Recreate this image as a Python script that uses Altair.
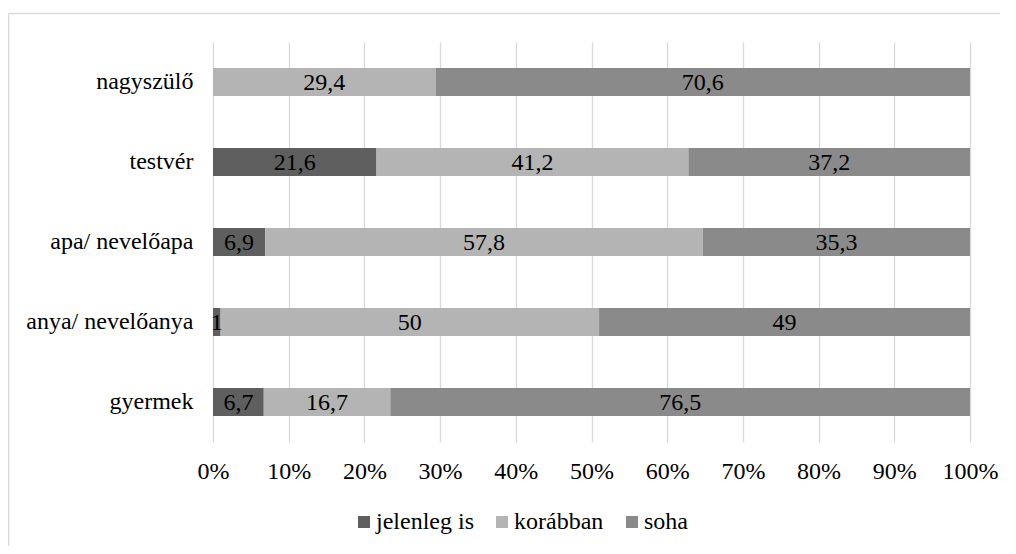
import altair as alt
import pandas as pd

categories = ["nagyszülő", "testvér", "apa/ nevelőapa", "anya/ nevelőanya", "gyermek"]
series = ["jelenleg is", "korábban", "soha"]
jelenleg_is = [0, 21.6, 6.9, 1, 6.7]
korabban = [29.4, 41.2, 57.8, 50, 16.7]
soha = [70.6, 37.2, 35.3, 49, 76.5]
colors = ["#5f5f5f", "#b4b4b4", "#8a8a8a"]
x_ticks = [0, 0.1, 0.2, 0.3, 0.4, 0.5, 0.6, 0.7, 0.8, 0.9, 1.0]

rows = []
for i, c in enumerate(categories):
    for j, (s, vals) in enumerate(zip(series, [jelenleg_is, korabban, soha])):
        v = vals[i]
        lab = ("{:g}".format(v)).replace(".", ",") if v > 0 else ""
        rows.append({"cat": c, "series": s, "order": j, "value": v, "label": lab})
df = pd.DataFrame(rows)

FONT = "Times New Roman, Liberation Serif, serif"

base = alt.Chart(df).transform_stack(
    stack="value", groupby=["cat"], sort=[alt.SortField("order")],
    as_=["x0", "x1"], offset="normalize"
).transform_calculate(mid="(datum.x0 + datum.x1) / 2")

yenc = alt.Y("cat:N", sort=categories, title=None,
             scale=alt.Scale(paddingInner=0.65, paddingOuter=0.325),
             axis=alt.Axis(domain=False, ticks=False, labelFontSize=24, labelFont=FONT,
                           labelColor="#000000", labelPadding=20, grid=False))

bars = base.mark_bar().encode(
    x=alt.X("x0:Q", title=None, scale=alt.Scale(domain=[0, 1]),
            axis=alt.Axis(values=x_ticks, format=".0%", domain=False, ticks=False,
                          grid=True, gridColor="#d9d9d9", gridWidth=1.3,
                          labelFontSize=24, labelFont=FONT, labelColor="#000000",
                          labelPadding=17, labelOverlap=False, labelFlush=False)),
    x2="x1:Q",
    y=yenc,
    color=alt.Color("series:N", sort=series,
                    scale=alt.Scale(domain=series, range=colors),
                    legend=alt.Legend(title=None, orient="none", direction="horizontal",
                                      legendX=139, legendY=468, symbolType="square",
                                      symbolSize=144, symbolStrokeWidth=0,
                                      labelFontSize=24, labelFont=FONT,
                                      labelColor="#000000", labelOffset=0,
                                      columnPadding=16)),
)

texts = base.mark_text(font=FONT, fontSize=24, color="#000000", baseline="middle",
                       align="center", dy=1).encode(
    x=alt.X("mid:Q"),
    y=alt.Y("cat:N", sort=categories),
    text="label:N",
)

frame_df = pd.DataFrame({"k": [0]})
frame_v = alt.Chart(frame_df).mark_rule(color="#d9d9d9", strokeWidth=1.5, clip=False).encode(
    x=alt.value(-204.5), y=alt.value(-28.5), y2=alt.value(700))
frame_h = alt.Chart(frame_df).mark_rule(color="#d9d9d9", strokeWidth=1.5, clip=False).encode(
    x=alt.value(-204.5), x2=alt.value(1000), y=alt.value(-28.5))

chart = alt.layer(frame_v, frame_h, bars, texts).properties(
    width=757, height=400,
    autosize=alt.AutoSizeParams(type="none"),
    padding={"left": 205, "top": 34, "right": 30, "bottom": 104},
    background="#ffffff",
).configure_view(stroke=None)

chart.save("out.html", embed_options={"renderer": "svg", "actions": False})
